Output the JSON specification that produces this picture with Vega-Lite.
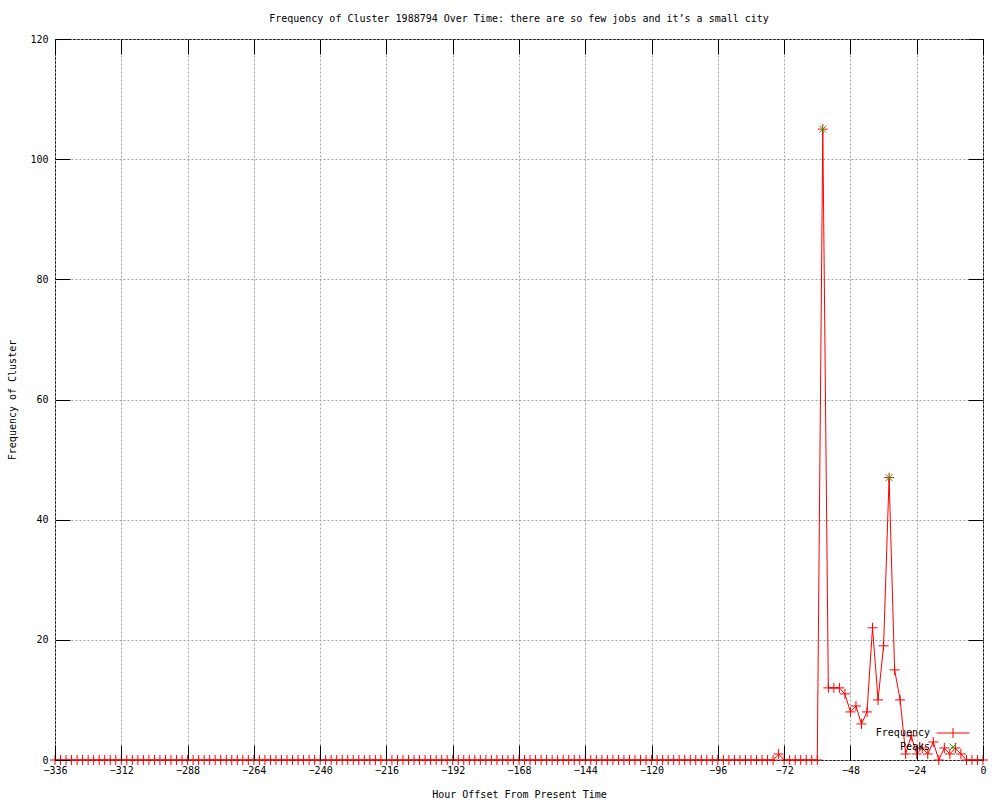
{
  "$schema": "https://vega.github.io/schema/vega-lite/v6.json",
  "autosize": {"type": "none"},
  "width": 928,
  "height": 721,
  "padding": {"left": 55, "top": 39, "right": 17, "bottom": 40},
  "background": "white",
  "config": {
    "font": "DejaVu Sans Mono",
    "view": {"stroke": "black", "strokeWidth": 1},
    "axis": {
      "labelFont": "DejaVu Sans Mono", "labelFontSize": 10, "labelColor": "black",
      "titleFont": "DejaVu Sans Mono", "titleFontSize": 10, "titleFontWeight": "normal", "titleColor": "black",
      "domainColor": "black", "gridColor": "#a0a0a0", "gridDash": [2, 2], "gridOpacity": 1
    }
  },
  "title": {"text": "Frequency of Cluster 1988794 Over Time: there are so few jobs and it’s a small city", "font": "DejaVu Sans Mono", "fontSize": 10, "fontWeight": "normal", "color": "black", "anchor": "middle", "frame": "group", "offset": 10},
  "datasets": {
    "freq": [
      {"hour": -336, "frequency": 0}, {"hour": -334, "frequency": 0}, {"hour": -332, "frequency": 0}, {"hour": -330, "frequency": 0},
      {"hour": -328, "frequency": 0}, {"hour": -326, "frequency": 0}, {"hour": -324, "frequency": 0}, {"hour": -322, "frequency": 0},
      {"hour": -320, "frequency": 0}, {"hour": -318, "frequency": 0}, {"hour": -316, "frequency": 0}, {"hour": -314, "frequency": 0},
      {"hour": -312, "frequency": 0}, {"hour": -310, "frequency": 0}, {"hour": -308, "frequency": 0}, {"hour": -306, "frequency": 0},
      {"hour": -304, "frequency": 0}, {"hour": -302, "frequency": 0}, {"hour": -300, "frequency": 0}, {"hour": -298, "frequency": 0},
      {"hour": -296, "frequency": 0}, {"hour": -294, "frequency": 0}, {"hour": -292, "frequency": 0}, {"hour": -290, "frequency": 0},
      {"hour": -288, "frequency": 0}, {"hour": -286, "frequency": 0}, {"hour": -284, "frequency": 0}, {"hour": -282, "frequency": 0},
      {"hour": -280, "frequency": 0}, {"hour": -278, "frequency": 0}, {"hour": -276, "frequency": 0}, {"hour": -274, "frequency": 0},
      {"hour": -272, "frequency": 0}, {"hour": -270, "frequency": 0}, {"hour": -268, "frequency": 0}, {"hour": -266, "frequency": 0},
      {"hour": -264, "frequency": 0}, {"hour": -262, "frequency": 0}, {"hour": -260, "frequency": 0}, {"hour": -258, "frequency": 0},
      {"hour": -256, "frequency": 0}, {"hour": -254, "frequency": 0}, {"hour": -252, "frequency": 0}, {"hour": -250, "frequency": 0},
      {"hour": -248, "frequency": 0}, {"hour": -246, "frequency": 0}, {"hour": -244, "frequency": 0}, {"hour": -242, "frequency": 0},
      {"hour": -240, "frequency": 0}, {"hour": -238, "frequency": 0}, {"hour": -236, "frequency": 0}, {"hour": -234, "frequency": 0},
      {"hour": -232, "frequency": 0}, {"hour": -230, "frequency": 0}, {"hour": -228, "frequency": 0}, {"hour": -226, "frequency": 0},
      {"hour": -224, "frequency": 0}, {"hour": -222, "frequency": 0}, {"hour": -220, "frequency": 0}, {"hour": -218, "frequency": 0},
      {"hour": -216, "frequency": 0}, {"hour": -214, "frequency": 0}, {"hour": -212, "frequency": 0}, {"hour": -210, "frequency": 0},
      {"hour": -208, "frequency": 0}, {"hour": -206, "frequency": 0}, {"hour": -204, "frequency": 0}, {"hour": -202, "frequency": 0},
      {"hour": -200, "frequency": 0}, {"hour": -198, "frequency": 0}, {"hour": -196, "frequency": 0}, {"hour": -194, "frequency": 0},
      {"hour": -192, "frequency": 0}, {"hour": -190, "frequency": 0}, {"hour": -188, "frequency": 0}, {"hour": -186, "frequency": 0},
      {"hour": -184, "frequency": 0}, {"hour": -182, "frequency": 0}, {"hour": -180, "frequency": 0}, {"hour": -178, "frequency": 0},
      {"hour": -176, "frequency": 0}, {"hour": -174, "frequency": 0}, {"hour": -172, "frequency": 0}, {"hour": -170, "frequency": 0},
      {"hour": -168, "frequency": 0}, {"hour": -166, "frequency": 0}, {"hour": -164, "frequency": 0}, {"hour": -162, "frequency": 0},
      {"hour": -160, "frequency": 0}, {"hour": -158, "frequency": 0}, {"hour": -156, "frequency": 0}, {"hour": -154, "frequency": 0},
      {"hour": -152, "frequency": 0}, {"hour": -150, "frequency": 0}, {"hour": -148, "frequency": 0}, {"hour": -146, "frequency": 0},
      {"hour": -144, "frequency": 0}, {"hour": -142, "frequency": 0}, {"hour": -140, "frequency": 0}, {"hour": -138, "frequency": 0},
      {"hour": -136, "frequency": 0}, {"hour": -134, "frequency": 0}, {"hour": -132, "frequency": 0}, {"hour": -130, "frequency": 0},
      {"hour": -128, "frequency": 0}, {"hour": -126, "frequency": 0}, {"hour": -124, "frequency": 0}, {"hour": -122, "frequency": 0},
      {"hour": -120, "frequency": 0}, {"hour": -118, "frequency": 0}, {"hour": -116, "frequency": 0}, {"hour": -114, "frequency": 0},
      {"hour": -112, "frequency": 0}, {"hour": -110, "frequency": 0}, {"hour": -108, "frequency": 0}, {"hour": -106, "frequency": 0},
      {"hour": -104, "frequency": 0}, {"hour": -102, "frequency": 0}, {"hour": -100, "frequency": 0}, {"hour": -98, "frequency": 0},
      {"hour": -96, "frequency": 0}, {"hour": -94, "frequency": 0}, {"hour": -92, "frequency": 0}, {"hour": -90, "frequency": 0},
      {"hour": -88, "frequency": 0}, {"hour": -86, "frequency": 0}, {"hour": -84, "frequency": 0}, {"hour": -82, "frequency": 0},
      {"hour": -80, "frequency": 0}, {"hour": -78, "frequency": 0}, {"hour": -76, "frequency": 0}, {"hour": -74, "frequency": 1},
      {"hour": -72, "frequency": 0}, {"hour": -70, "frequency": 0}, {"hour": -68, "frequency": 0}, {"hour": -66, "frequency": 0},
      {"hour": -64, "frequency": 0}, {"hour": -62, "frequency": 0}, {"hour": -60, "frequency": 0}, {"hour": -58, "frequency": 105},
      {"hour": -56, "frequency": 12}, {"hour": -54, "frequency": 12}, {"hour": -52, "frequency": 12}, {"hour": -50, "frequency": 11},
      {"hour": -48, "frequency": 8}, {"hour": -46, "frequency": 9}, {"hour": -44, "frequency": 6}, {"hour": -42, "frequency": 8},
      {"hour": -40, "frequency": 22}, {"hour": -38, "frequency": 10}, {"hour": -36, "frequency": 19}, {"hour": -34, "frequency": 47},
      {"hour": -32, "frequency": 15}, {"hour": -30, "frequency": 10}, {"hour": -28, "frequency": 1}, {"hour": -26, "frequency": 4},
      {"hour": -24, "frequency": 1}, {"hour": -22, "frequency": 2}, {"hour": -20, "frequency": 1}, {"hour": -18, "frequency": 3},
      {"hour": -16, "frequency": 0}, {"hour": -14, "frequency": 2}, {"hour": -12, "frequency": 1}, {"hour": -10, "frequency": 2},
      {"hour": -8, "frequency": 1}, {"hour": -6, "frequency": 0}, {"hour": -4, "frequency": 0}, {"hour": -2, "frequency": 0},
      {"hour": 0, "frequency": 0}
    ],
    "peaks": [
      {"hour": -58, "frequency": 105},
      {"hour": -34, "frequency": 47}
    ]
  },
  "resolve": {"axis": {"x": "independent", "y": "independent"}},
  "layer": [
    {
      "data": {"name": "freq"},
      "mark": {"type": "line", "color": "#ff0000", "strokeWidth": 1, "clip": true},
      "encoding": {
        "x": {"field": "hour", "type": "quantitative", "scale": {"domain": [-336, 0], "nice": false, "zero": false},
              "axis": {"orient": "bottom", "values": [-336, -312, -288, -264, -240, -216, -192, -168, -144, -120, -96, -72, -48, -24, 0],
                       "title": null, "labels": false, "ticks": true, "tickSize": -15, "tickColor": "black", "tickWidth": 1, "domain": false, "grid": false, "zindex": 2}},
        "y": {"field": "frequency", "type": "quantitative", "scale": {"domain": [0, 120], "nice": false},
              "axis": {"orient": "left", "values": [0, 20, 40, 60, 80, 100, 120], "title": null, "labels": false, "ticks": true, "tickSize": 15, "offset": -15, "tickColor": "black", "tickWidth": 1, "domain": false, "grid": false, "zindex": 2}}
      }
    },
    {
      "data": {"name": "freq"},
      "mark": {"type": "point", "shape": "M-1,0H1M0,-1V1", "filled": false, "size": 100, "strokeWidth": 1, "opacity": 1, "color": "#ff0000"},
      "encoding": {
        "x": {"field": "hour", "type": "quantitative", "axis": {"orient": "top", "values": [-336, -312, -288, -264, -240, -216, -192, -168, -144, -120, -96, -72, -48, -24, 0], "labels": false, "title": null, "ticks": true, "tickSize": 15, "offset": -15, "tickColor": "black", "tickWidth": 1, "grid": false, "domain": false}},
        "y": {"field": "frequency", "type": "quantitative", "axis": {"orient": "right", "values": [0, 20, 40, 60, 80, 100, 120], "labels": false, "title": null, "ticks": true, "tickSize": 15, "offset": -15, "tickColor": "black", "tickWidth": 1, "grid": false, "domain": false}}
      }
    },
    {
      "data": {"name": "peaks"},
      "mark": {"type": "point", "filled": false, "size": 100, "strokeWidth": 1, "opacity": 1},
      "encoding": {
        "x": {"field": "hour", "type": "quantitative",
              "axis": {"orient": "bottom", "values": [-336, -312, -288, -264, -240, -216, -192, -168, -144, -120, -96, -72, -48, -24, 0],
                       "title": "Hour Offset From Present Time", "titlePadding": 14, "ticks": false, "labelPadding": 5, "grid": true, "domain": false, "labelFlush": false, "labelBound": false}},
        "y": {"field": "frequency", "type": "quantitative",
              "axis": {"orient": "left", "values": [0, 20, 40, 60, 80, 100, 120], "title": "Frequency of Cluster", "titlePadding": 12, "ticks": false, "labelPadding": 7, "grid": true, "domain": false, "labelFlush": false}},
        "color": {"datum": "Peaks", "type": "nominal",
                  "scale": {"domain": ["Frequency", "Peaks"], "range": ["#ff0000", "#00c000"]},
                  "legend": {"title": null, "orient": "none", "legendX": 892.5, "legendY": 688.5, "padding": 0,
                             "labelFont": "DejaVu Sans Mono", "labelFontSize": 10, "labelColor": "black",
                             "labelAlign": "right", "labelOffset": -28.5, "symbolSize": 100, "symbolStrokeWidth": 1, "rowPadding": 1}},
        "shape": {"datum": "Peaks", "type": "nominal",
                  "scale": {"domain": ["Frequency", "Peaks"], "range": ["M-3.3,0H3.3M0,-1V1", "M-0.7,-0.7L0.7,0.7M-0.7,0.7L0.7,-0.7"]},
                  "legend": {"title": null, "orient": "none", "legendX": 892.5, "legendY": 688.5, "padding": 0,
                             "labelFont": "DejaVu Sans Mono", "labelFontSize": 10, "labelColor": "black",
                             "labelAlign": "right", "labelOffset": -28.5, "symbolSize": 100, "symbolStrokeWidth": 1, "rowPadding": 1}}
      }
    }
  ]
}
